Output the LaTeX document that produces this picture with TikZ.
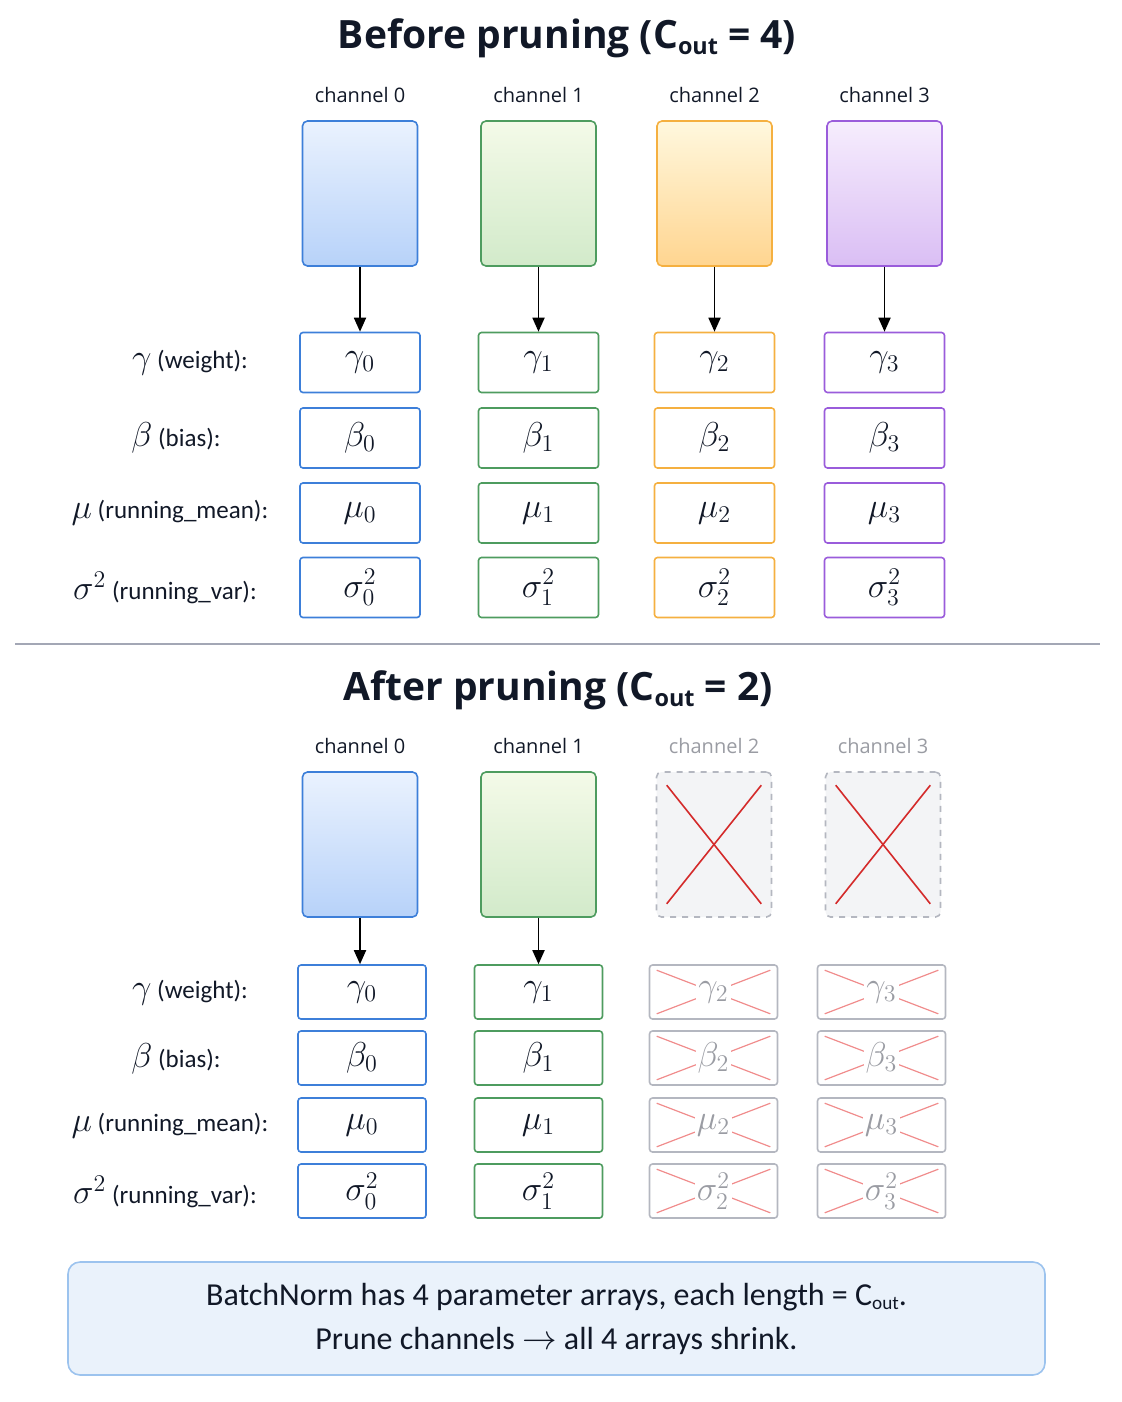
\documentclass[tikz,border=0pt]{standalone}
\usepackage{fontspec}
\setmainfont{Open Sans}
\newfontfamily\notefont{Carlito}
\usetikzlibrary{arrows.meta, positioning, calc}
\definecolor{ink}{HTML}{111827}
\definecolor{chblue}{HTML}{3D7FD9}
\definecolor{chbluetop}{HTML}{EAF2FE}
\definecolor{chbluebot}{HTML}{B7D2F9}
\definecolor{chgreen}{HTML}{4E9C5F}
\definecolor{chgreentop}{HTML}{F4FAE8}
\definecolor{chgreenbot}{HTML}{D2EACA}
\definecolor{chorange}{HTML}{F5B040}
\definecolor{chorangetop}{HTML}{FFF8DE}
\definecolor{chorangebot}{HTML}{FFD590}
\definecolor{chpurple}{HTML}{9A5CDB}
\definecolor{chpurpletop}{HTML}{F6EDFD}
\definecolor{chpurplebot}{HTML}{DABEF4}
\definecolor{prunegray}{HTML}{B4B7C0}
\definecolor{prunetext}{HTML}{9A9CA3}
\definecolor{prunefill}{HTML}{F3F4F6}
\definecolor{crossred}{HTML}{D42A2A}
\definecolor{crosslight}{HTML}{F08C8C}
\definecolor{rulegray}{HTML}{A3A7B5}
\definecolor{notefill}{HTML}{EAF2FB}
\definecolor{noteline}{HTML}{9CC3EE}

\newcommand{\sub}[1]{\raisebox{-0.3ex}{\fontsize{0.6em}{0.7em}\selectfont #1}}
\newcommand{\gk}[1]{{\fontsize{18}{18}\selectfont$#1$}}

\begin{document}
\begin{tikzpicture}[
    x=0.5pt, y=-0.5pt,
    every node/.style={font=\notefont, text=ink},
    title/.style={font=\fontsize{19.5}{24}\selectfont\bfseries},
    chlabel/.style={font=\fontsize{10}{12}\selectfont},
    rowlabel/.style={font=\notefont\fontsize{12.5}{15}\selectfont},
    chbox/.style={rectangle, draw, rounded corners=2.5pt, line width=0.8pt, minimum width=57.5pt, minimum height=72.5pt},
    param/.style={rectangle, draw, rounded corners=1.5pt, line width=0.8pt, minimum width=60pt, minimum height=30pt, font=\fontsize{18}{18}\selectfont},
    paramsm/.style={param, minimum width=64pt, minimum height=27pt},
    pruned/.style={paramsm, draw=prunegray, text=prunetext},
    gone/.style={chbox, draw=prunegray, dashed, fill=prunefill},
    arrow/.style={-{Triangle[length=7pt,width=6pt]}, line width=0.9pt},
    note/.style={rectangle, draw=noteline, fill=notefill, rounded corners=6pt, line width=0.8pt, minimum width=488.5pt, minimum height=56.5pt, align=center, font=\notefont\fontsize{16}{22}\selectfont}
]
\useasboundingbox (0,0) rectangle (1122,1402);

% ---------- before pruning ----------
\node[title] (titlebefore) at (567,38) {Before pruning (C\sub{out} = 4)};

\foreach \i/\x/\c in {0/360/chblue, 1/538.5/chgreen, 2/714.5/chorange, 3/884.5/chpurple} {
    \node[chlabel] (lbl\i) at (\x,95) {channel \i};
    \node[chbox, draw=\c, top color=\c top, bottom color=\c bot] (ch\i) at (\x,193.5) {};
    \node[param, draw=\c] (gam\i) at (\x,362.5) {$\gamma_{\i}$};
    \node[param, draw=\c] (bet\i) at (\x,438) {$\beta_{\i}$};
    \node[param, draw=\c] (mu\i) at (\x,513) {$\mu_{\i}$};
    \node[param, draw=\c] (var\i) at (\x,587.5) {$\sigma_{\i}^{2}$};
    \draw[arrow] (ch\i.south) -- (gam\i.north);
}

% row labels
\node[rowlabel] (rg) at (190,363) {\gk{\gamma} (weight):};
\node[rowlabel] (rb) at (176,438) {\gk{\beta} (bias):};
\node[rowlabel] (rm) at (170,513) {\gk{\mu} (running\_mean):};
\node[rowlabel] (rv) at (165,588) {\gk{\sigma^{2}} (running\_var):};

% separator
\coordinate (sepl) at (15,644);
\coordinate (sepr) at (1100,644);
\draw[rulegray, line width=0.8pt] (sepl) -- (sepr);

% ---------- after pruning ----------
\node[title] (titleafter) at (558,690) {After pruning (C\sub{out} = 2)};

\foreach \i/\x/\px/\c in {0/360/362/chblue, 1/538.5/538.5/chgreen} {
    \node[chlabel] (albl\i) at (\x,746) {channel \i};
    \node[chbox, draw=\c, top color=\c top, bottom color=\c bot] (ach\i) at (\x,844.5) {};
    \node[paramsm, draw=\c] (agam\i) at (\px,992) {$\gamma_{\i}$};
    \node[paramsm, draw=\c] (abet\i) at (\px,1058) {$\beta_{\i}$};
    \node[paramsm, draw=\c] (amu\i) at (\px,1125) {$\mu_{\i}$};
    \node[paramsm, draw=\c] (avar\i) at (\px,1191) {$\sigma_{\i}^{2}$};
    \draw[arrow] (ach\i.south) -- (ach\i.south |- agam\i.north);
}

\foreach \i/\x/\px in {2/714/713.5, 3/883/881.5} {
    \node[chlabel, text=prunetext] (albl\i) at (\x,746) {channel \i};
    \node[gone] (ach\i) at (\x,844.5) {};
    \draw[crossred, line width=0.8pt]
        ($(ach\i.north west)+(11,14)$) -- ($(ach\i.south east)+(-11,-14)$)
        ($(ach\i.north east)+(-11,14)$) -- ($(ach\i.south west)+(11,-14)$);
    \foreach \n/\s/\y in {agam/{\gamma_{\i}}/992, abet/{\beta_{\i}}/1058, amu/{\mu_{\i}}/1125, avar/{\sigma_{\i}^{2}}/1191} {
        \node[pruned] (\n\i) at (\px,\y) {};
        \draw[crosslight, line width=0.6pt]
            ($(\n\i.north west)+(8,6)$) -- ($(\n\i.south east)+(-8,-6)$)
            ($(\n\i.north east)+(-8,6)$) -- ($(\n\i.south west)+(8,-6)$);
        \node[font=\fontsize{18}{18}\selectfont, text=prunetext, fill=white, inner sep=1pt] at (\n\i) {$\s$};
    }
}

% row labels
\node[rowlabel] (arg) at (190,993) {\gk{\gamma} (weight):};
\node[rowlabel] (arb) at (176,1059) {\gk{\beta} (bias):};
\node[rowlabel] (arm) at (170,1126) {\gk{\mu} (running\_mean):};
\node[rowlabel] (arv) at (165,1192) {\gk{\sigma^{2}} (running\_var):};

% ---------- note ----------
\node[note] (summary) at (556.5,1318.5) {BatchNorm has 4 parameter arrays, each length = C\sub{out}.\\Prune channels $\rightarrow$ all 4 arrays shrink.};

\end{tikzpicture}
\end{document}
